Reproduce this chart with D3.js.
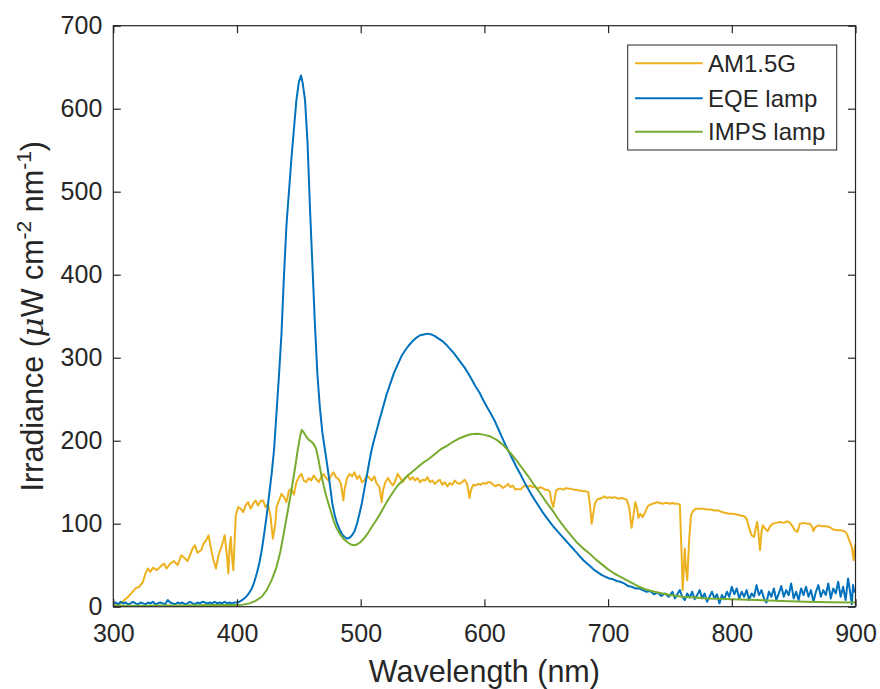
<!DOCTYPE html>
<html><head><meta charset="utf-8">
<script src="https://cdn.jsdelivr.net/npm/d3@7/dist/d3.min.js"></script>
<style>
body{margin:0;background:#fff;}
text{font-family:"Liberation Sans",Arial,Helvetica,sans-serif;fill:#262626;}
</style></head>
<body><svg id="chart" width="880" height="689"></svg>
<script>
// ---- data (wavelength nm, irradiance µW cm^-2 nm^-1) ----
const xTicks = [300,400,500,600,700,800,900];
const yTicks = [0,100,200,300,400,500,600,700];
const seriesNames = ["AM1.5G","EQE lamp","IMPS lamp"];
const seriesColors = ["#EDB120","#0072BD","#77AC30"];

const am15g = [[300,1],[303,2],[306,4],[309,8],[312,12],[315,17],[318,22],[321,24],[324,30],[326,40],[328,46],[330,42],[332,47],[335,44],[338,48],[341,52],[343,46],[346,52],[349,55],[352,50],[355,62],[358,58],[360,55],[362,62],[364,70],[366,74],[368,65],[371,68],[373,76],[375,80],[377,86],[379,70],[381,56],[383,46],[385,62],[387,70],[389,80],[390,86],[392,60],[393,40],[394,70],[395,84],[396,60],[397,44],[398,75],[399,110],[401,120],[403,118],[405,114],[407,122],[409,126],[411,118],[413,124],[415,128],[417,122],[419,127],[421,128],[423,120],[425,124],[427,110],[429,82],[431,100],[432,120],[434,128],[436,136],[438,132],[440,126],[442,140],[444,142],[446,135],[448,150],[450,156],[452,160],[454,152],[456,150],[458,155],[460,152],[462,158],[464,154],[466,150],[468,156],[470,160],[472,155],[474,152],[476,158],[478,162],[480,156],[482,154],[484,148],[486,128],[487,142],[489,155],[491,160],[493,157],[495,162],[497,154],[499,158],[501,150],[503,152],[505,158],[507,155],[509,152],[511,157],[513,148],[515,145],[517,126],[518,140],[520,150],[522,155],[524,150],[526,146],[528,152],[530,160],[532,155],[534,150],[536,155],[538,158],[540,153],[542,156],[544,152],[546,155],[548,150],[550,153],[552,152],[554,156],[556,150],[558,152],[560,148],[562,151],[564,153],[566,147],[568,150],[570,145],[572,149],[574,147],[576,152],[578,149],[580,148],[582,150],[584,153],[586,148],[588,131],[589,140],[591,147],[593,146],[595,148],[597,147],[599,149],[601,148],[603,150],[605,150],[607,147],[609,145],[611,147],[613,146],[615,143],[617,145],[619,148],[621,144],[623,146],[625,141],[627,142],[629,141],[631,144],[633,146],[635,144],[637,146],[639,144],[641,145],[643,142],[645,144],[647,143],[649,141],[651,141],[653,138],[654,128],[655.7,120],[657,132],[658,140],[660,142],[662,142],[664,141],[666,143],[668,142],[670,142],[672,141],[674,141],[676,140],[678,140],[680,139],[682,139],[684,138],[685.5,120],[686.7,100],[688,112],[689.5,125],[691,129],[693,130],[695,131],[697,133],[699,131],[701,132],[703,131],[705,132],[707,131],[709,130],[711,131],[713,130],[715,129],[717,120],[719,95],[720.5,110],[722,126],[723.5,118],[724.5,107],[726,112],[728,108],[730,114],[732,121],[734,123],[736,124],[738,125],[740,126],[742,125],[744,124],[746,125],[748,125],[750,124],[752,125],[754,124],[756,124],[758,123],[759.5,60],[760.3,20],[761,40],[762,70],[763,45],[764,32],[765.5,80],[767,110],[769,116],[771,118],[774,118],[777,118],[780,117],[783,117],[786,116],[789,116],[792,114],[795,113],[798,112],[801,112],[804,111],[807,110],[810,109],[812,106],[814,95],[816,86],[818,84],[819.5,96],[820.5,102],[821.5,90],[822.8,68],[824,90],[825,98],[827,94],[829,91],[831,97],[833,100],[836,101],[839,102],[842,101],[845,103],[847,101],[849,97],[851,92],[853,90],[855,100],[858,101],[861,100],[863,100],[865,96],[866,91],[867.5,96],[870,98],[873,97],[876,97],[879,96],[882,93],[885,92],[888,92],[891,91],[893,88],[895,80],[897,72],[898.5,56],[899.3,70],[900,75]];

const eqeLamp = [[300,4],[302,5],[304,3],[306,6],[308,4],[310,5],[312,3],[314,4],[316,6],[318,4],[320,3],[322,5],[324,4],[326,3],[328,5],[330,4],[332,6],[334,3],[336,4],[338,5],[340,4],[342,3],[344,8],[346,5],[348,4],[350,3],[352,5],[354,4],[356,5],[358,3],[360,4],[362,6],[364,4],[366,3],[368,5],[370,4],[372,6],[374,5],[376,4],[378,5],[380,4],[382,6],[384,4],[386,5],[388,4],[390,6],[392,4],[394,5],[396,4],[398,5],[400,5],[402,6],[404,8],[406,10],[408,13],[410,17],[412,22],[414,30],[416,40],[418,52],[420,68],[422,88],[424,110],[426,135],[428,160],[430,190],[432,235],[434,280],[436,330],[438,400],[440,460],[442,500],[444,540],[446,575],[448,610],[450,632],[451.7,640],[453,632],[455,610],[457,560],[459,480],[461,410],[463,340],[465,280],[467,240],[469,210],[471,190],[473,170],[475,148],[477,125],[479,110],[481,100],[483,93],[485,87],[487,84],[489,82],[491,83],[493,86],[495,91],[497,100],[499,112],[501,125],[503,142],[505,158],[507,175],[509,190],[511,202],[513,213],[515,224],[518,240],[521,256],[524,269],[527,282],[530,292],[533,302],[536,309],[539,315],[542,320],[545,324],[548,327],[551,328],[554,329],[557,328],[560,326],[563,323],[566,320],[569,316],[572,311],[575,306],[578,300],[581,294],[584,288],[587,281],[590,273],[593,265],[596,258],[599,249],[602,241],[605,233],[608,225],[611,215],[614,205],[617,195],[620,186],[623,177],[626,168],[629,160],[632,151],[635,143],[638,135],[641,128],[644,121],[647,114],[650,108],[653,102],[656,96],[659,91],[662,86],[665,81],[668,76],[671,71],[674,66],[677,61],[680,56],[683,52],[686,48],[689,44],[692,41],[695,38],[698,36],[701,34],[704,33],[707,31],[710,30],[713,28],[716,25],[719,24],[722,22],[725,22],[728,20],[731,18],[734,19],[737,15],[740,17],[743,13],[746,16],[749,12],[752,18],[754,10],[756,15],[758,20],[760,12],[762,8],[764,16],[766,11],[768,18],[770,9],[772,14],[774,20],[776,10],[778,16],[780,6],[782,12],[784,18],[786,10],[788,15],[790,4],[792,14],[794,9],[796,18],[798,12],[800,24],[802,15],[804,22],[806,10],[808,18],[810,12],[812,20],[814,8],[816,16],[818,12],[820,26],[822,14],[824,20],[826,10],[828,5],[830,18],[832,12],[834,22],[836,8],[838,16],[840,25],[842,12],[844,20],[846,14],[848,28],[850,10],[852,18],[854,8],[856,22],[858,14],[860,24],[862,12],[864,20],[866,6],[868,18],[870,26],[872,12],[874,20],[876,14],[878,28],[880,10],[882,22],[884,16],[886,30],[888,12],[890,24],[892,8],[894,34],[896,14],[897,3],[898,26],[899,18],[900,20]];

const impsLamp = [[300,1],[320,1],[340,1.5],[360,1.5],[380,2],[400,2],[405,2.5],[410,4],[415,7],[420,12],[424,20],[428,32],[432,48],[435,66],[438,90],[441,115],[444,140],[447,168],[449,188],[451,205],[452.3,213],[454,210],[456,205],[458,201],[460,199],[462,196],[464,190],[466,176],[468,160],[470,146],[472,134],[474,124],[476,114],[478,104],[480,96],[483,88],[486,82],[489,78],[492,75],[494.6,74],[497,75],[500,78],[503,83],[506,89],[509,96],[512,103],[515,110],[518,118],[521,126],[524,133],[527,140],[530,146],[534,152],[538,158],[542,163],[546,168],[550,173],[555,178],[560,184],[565,190],[570,194],[575,199],[580,203],[585,206],[590,208],[595,208.5],[600,207],[605,205],[610,201],[615,195],[620,187],[625,178],[630,168],[635,158],[640,147],[645,137],[650,126],[655,116],[660,105],[665,95],[670,86],[675,77],[680,70],[685,64],[690,57],[695,51],[700,45],[705,40],[710,36],[715,32],[720,28],[725,24],[730,21],[735,19],[740,17],[745,15.5],[750,14],[760,12],[770,11],[780,10],[790,9.5],[800,9],[820,8],[840,7],[860,6],[880,5.5],[900,5]];

// ---- layout ----
const L = 113.3, R = 855.5, T = 25.7, B = 606.7;
const svg = d3.select("#chart");
const x = d3.scaleLinear().domain([300,900]).range([L,R]);
const y = d3.scaleLinear().domain([0,700]).range([B,T]);
const tickLen = 7.5;
const axisColor = "#262626";

svg.append("defs").append("clipPath").attr("id","clip")
  .append("rect").attr("x",L).attr("y",T).attr("width",R-L).attr("height",B-T);

const line = d3.line().x(d=>x(d[0])).y(d=>y(d[1]));
const plot = svg.append("g").attr("clip-path","url(#clip)");
[am15g, eqeLamp, impsLamp].forEach((s,i)=>{
  plot.append("path").datum(s).attr("d",line)
    .attr("fill","none").attr("stroke",seriesColors[i])
    .attr("stroke-width",2).attr("stroke-linejoin","round");
});

function styleAxis(g, showText){
  g.select(".domain").remove();
  g.selectAll(".tick line").attr("stroke",axisColor).attr("stroke-width",1.2);
  g.selectAll(".tick text").attr("fill",axisColor)
    .style("font-size","25px").style("font-family",'"Liberation Sans",Arial,sans-serif');
  if(!showText) g.selectAll(".tick text").remove();
}
svg.append("g").attr("transform",`translate(0,${B})`)
  .call(d3.axisBottom(x).tickValues(xTicks).tickSizeInner(-tickLen).tickSizeOuter(0).tickPadding(18))
  .call(g=>styleAxis(g,true));
svg.append("g").attr("transform",`translate(0,${T})`)
  .call(d3.axisTop(x).tickValues(xTicks).tickSizeInner(-tickLen).tickSizeOuter(0))
  .call(g=>styleAxis(g,false));
svg.append("g").attr("transform",`translate(${L},0)`)
  .call(d3.axisLeft(y).tickValues(yTicks).tickSizeInner(-tickLen).tickSizeOuter(0).tickPadding(11))
  .call(g=>styleAxis(g,true));
svg.append("g").attr("transform",`translate(${R},0)`)
  .call(d3.axisRight(y).tickValues(yTicks).tickSizeInner(-tickLen).tickSizeOuter(0))
  .call(g=>styleAxis(g,false));

// box
svg.append("rect").attr("x",L).attr("y",T).attr("width",R-L).attr("height",B-T)
  .attr("fill","none").attr("stroke",axisColor).attr("stroke-width",1.2);

// axis labels
svg.append("text").attr("x",(L+R)/2).attr("y",682).attr("text-anchor","middle")
  .style("font-size","30.5px").text("Wavelength (nm)");

const yl = svg.append("text").attr("transform",`translate(43,${(T+B)/2}) rotate(-90)`)
  .attr("text-anchor","middle").style("font-size","30.5px");
yl.append("tspan").text("Irradiance (");
yl.append("tspan").style("font-style","italic").style("font-family",'"DejaVu Serif","Liberation Serif",serif').text("\u03BC");
yl.append("tspan").text("W cm");
yl.append("tspan").attr("dy",-12).style("font-size","21px").text("-2");
yl.append("tspan").attr("dy",12).text(" nm");
yl.append("tspan").attr("dy",-12).style("font-size","21px").text("-1");
yl.append("tspan").attr("dy",12).text(")");

// legend
const lg = svg.append("g");
lg.append("rect").attr("x",627.7).attr("y",45).attr("width",209).attr("height",105)
  .attr("fill","#fff").attr("stroke",axisColor).attr("stroke-width",1);
const rowY = [63.3, 98.3, 131.7];
seriesNames.forEach((n,i)=>{
  lg.append("line").attr("x1",635).attr("x2",702.7).attr("y1",rowY[i]).attr("y2",rowY[i])
    .attr("stroke",seriesColors[i]).attr("stroke-width",2);
  lg.append("text").attr("x",708).attr("y",rowY[i]).attr("dy","0.36em")
    .style("font-size","24px").attr("fill","#000").text(n);
});
</script></body></html>
